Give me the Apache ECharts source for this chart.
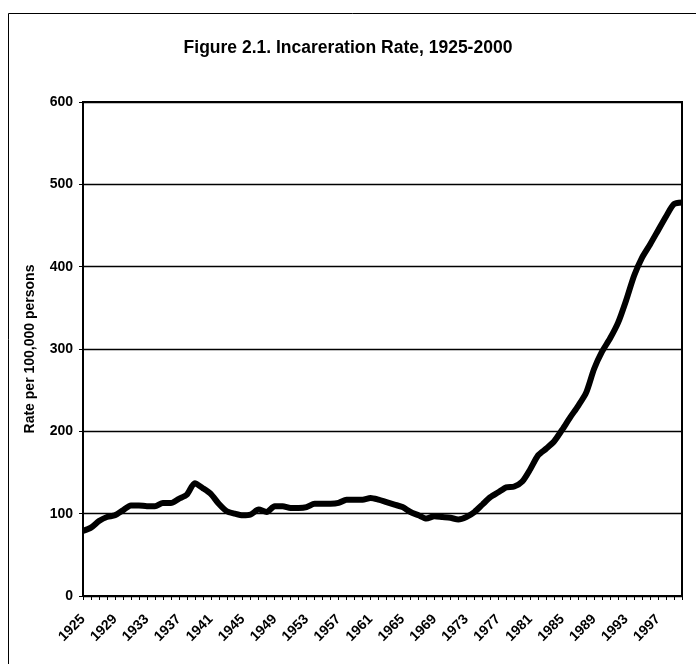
<!DOCTYPE html>
<html>
<head>
<meta charset="utf-8">
<script src="https://cdn.jsdelivr.net/npm/echarts@6/dist/echarts.min.js"></script>
<style>
  html, body { margin: 0; padding: 0; background: #fff; }
  #chart { width: 696px; height: 664px; }
</style>
</head>
<body>
<div id="chart"></div>
<script>
// years 1925-2000
const years = [];
for (let y = 1925; y <= 2000; y++) years.push(String(y));

// rate per 100,000 persons
const rates = [
  79, 83, 91, 96, 98, 104, 110, 110, 109, 109,
  113, 113, 118, 123, 137, 131, 124, 112, 103, 100,
  98, 99, 105, 102, 109, 109, 107, 107, 108, 112,
  112, 112, 113, 117, 117, 117, 119, 117, 114, 111,
  108, 102, 98, 94, 97, 96, 95, 93, 96, 102,
  111, 120, 126, 132, 133, 139, 154, 171, 179, 188,
  202, 217, 231, 247, 276, 297, 313, 332, 359, 389,
  411, 427, 444, 461, 476, 478
];

const yTicks = [0, 100, 200, 300, 400, 500, 600];

const chart = echarts.init(document.getElementById("chart"));
const font = "'Liberation Sans', Arial, sans-serif";

let option = {
  backgroundColor: "#fff",
  animation: false,
  title: {
    text: "Figure 2.1. Incareration Rate, 1925-2000",
    left: "center",
    top: 34,
    textStyle: {
      fontFamily: font,
      fontWeight: "bold",
      fontSize: 17.5,
      color: "#000",
    },
  },
  graphic: [
    {
      type: "rect",
      shape: { x: 8.5, y: 13.5, width: 700, height: 700 },
      style: { fill: "none", stroke: "#000", lineWidth: 1 },
      silent: true,
    },
  ],
  grid: {
    left: 83,
    right: 14,
    top: 102,
    bottom: 68,
    show: true,
    borderColor: "#000",
    borderWidth: 2,
  },
  xAxis: {
    type: "category",
    boundaryGap: false,
    data: years,
    axisLine: { lineStyle: { color: "#000", width: 2 } },
    axisTick: {
      show: true,
      interval: 0,
      length: 4,
      lineStyle: { color: "#000", width: 1 },
    },
    axisLabel: {
      interval: 3,
      rotate: 45,
      margin: 21,
      fontFamily: font,
      fontWeight: "bold",
      fontSize: 14,
      color: "#000",
    },
  },
  yAxis: {
    type: "value",
    min: yTicks[0],
    max: yTicks[yTicks.length - 1],
    interval: 100,
    name: "Rate per 100,000 persons",
    nameLocation: "middle",
    nameGap: 46,
    nameTextStyle: {
      fontFamily: font,
      fontWeight: "bold",
      fontSize: 14,
      color: "#000",
    },
    axisLine: { show: true, lineStyle: { color: "#000", width: 2 } },
    axisTick: { show: true, length: 4, lineStyle: { color: "#000" } },
    axisLabel: {
      margin: 10,
      fontFamily: font,
      fontWeight: "bold",
      fontSize: 14,
      color: "#000",
    },
    splitLine: { show: true, lineStyle: { color: "#000", width: 1.3 } },
  },
  series: [
    {
      name: "Incarceration rate",
      type: "line",
      data: rates,
      showSymbol: false,
      smooth: 0.25,
      lineStyle: { color: "#000", width: 6 },
    },
  ],
};

chart.setOption(option, true);
</script>
</body>
</html>
